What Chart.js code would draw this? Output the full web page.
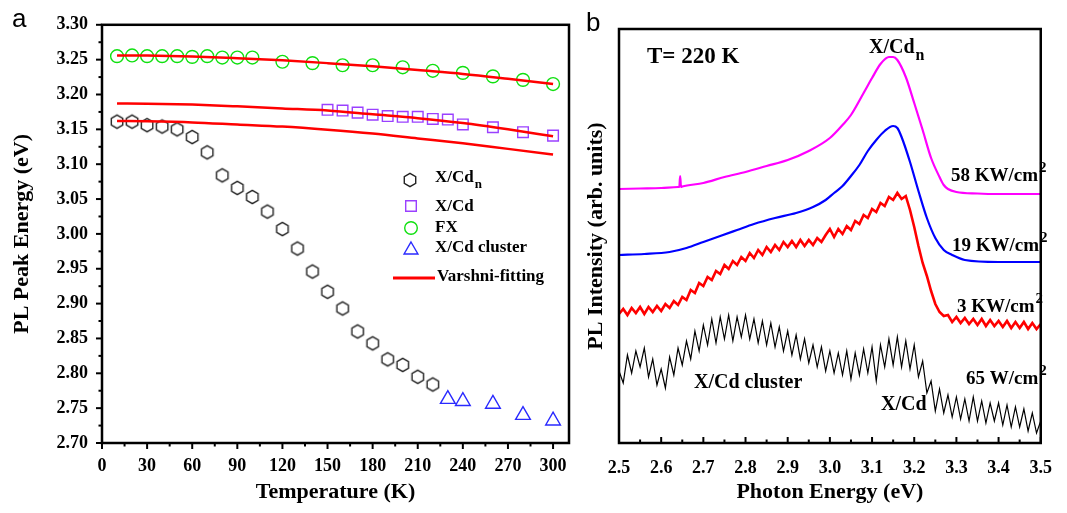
<!DOCTYPE html>
<html>
<head>
<meta charset="utf-8">
<script src="https://cdn.jsdelivr.net/npm/chart.js@4.4.1/dist/chart.umd.min.js"></script>
<style>
html, body { margin: 0; padding: 0; background: #fff; }
#wrapA { position: absolute; left: 0; top: 0; width: 580px; height: 513px; }
#wrapB { position: absolute; left: 580px; top: 0; width: 487px; height: 513px; }
</style>
</head>
<body>
<div id="wrapA"><canvas id="chartA"></canvas></div>
<div id="wrapB"><canvas id="chartB"></canvas></div>
<script>
// ---- panel a : peak energy vs temperature ----
var hexT = [10, 20, 30, 40, 50, 60, 70, 80, 90, 100, 110, 120, 130, 140, 150, 160, 170, 180, 190, 200, 210, 220];
var hexE = [3.161, 3.161, 3.156, 3.154, 3.150, 3.139, 3.117, 3.084, 3.066, 3.053, 3.032, 3.007, 2.979, 2.946, 2.917, 2.893, 2.860, 2.843, 2.820, 2.812, 2.795, 2.784];
var sqT = [150, 160, 170, 180, 190, 200, 210, 220, 230, 240, 260, 280, 300];
var sqE = [3.178, 3.177, 3.174, 3.171, 3.169, 3.168, 3.168, 3.165, 3.164, 3.157, 3.153, 3.146, 3.141];
var fxT = [10, 20, 30, 40, 50, 60, 70, 80, 90, 100, 120, 140, 160, 180, 200, 220, 240, 260, 280, 300];
var fxE = [3.255, 3.256, 3.255, 3.255, 3.255, 3.254, 3.255, 3.253, 3.253, 3.253, 3.247, 3.245, 3.242, 3.242, 3.239, 3.234, 3.231, 3.226, 3.221, 3.215];
var clT = [230, 240, 260, 280, 300];
var clE = [2.763, 2.760, 2.756, 2.740, 2.732];
var fitT = [10, 30, 60, 90, 120, 150, 180, 210, 240, 270, 300];
var fitFX = [3.256, 3.2558, 3.2545, 3.252, 3.249, 3.245, 3.2405, 3.235, 3.2295, 3.2225, 3.215];
var fitXCd = [3.187, 3.1868, 3.1855, 3.183, 3.180, 3.177, 3.1715, 3.166, 3.159, 3.150, 3.140];
var fitXCdn = [3.162, 3.1615, 3.160, 3.157, 3.154, 3.1495, 3.144, 3.137, 3.130, 3.122, 3.114];
var tempTicks = [0, 30, 60, 90, 120, 150, 180, 210, 240, 270, 300];
var tempMinor = [15, 45, 75, 105, 135, 165, 195, 225, 255, 285];
var peTicks = [2.70, 2.75, 2.80, 2.85, 2.90, 2.95, 3.00, 3.05, 3.10, 3.15, 3.20, 3.25, 3.30];
var peMinor = [2.725, 2.775, 2.825, 2.875, 2.925, 2.975, 3.025, 3.075, 3.125, 3.175, 3.225, 3.275];

// ---- panel b : PL spectra at 220 K ----
var gridE = [2.50, 2.51, 2.52, 2.53, 2.54, 2.55, 2.56, 2.57, 2.58, 2.59,
  2.60, 2.61, 2.62, 2.63, 2.64, 2.65, 2.66, 2.67, 2.68, 2.69,
  2.70, 2.71, 2.72, 2.73, 2.74, 2.75, 2.76, 2.77, 2.78, 2.79,
  2.80, 2.81, 2.82, 2.83, 2.84, 2.85, 2.86, 2.87, 2.88, 2.89,
  2.90, 2.91, 2.92, 2.93, 2.94, 2.95, 2.96, 2.97, 2.98, 2.99,
  3.00, 3.01, 3.02, 3.03, 3.04, 3.05, 3.06, 3.07, 3.08, 3.09,
  3.10, 3.11, 3.12, 3.13, 3.14, 3.15, 3.16, 3.17, 3.18, 3.19,
  3.20, 3.21, 3.22, 3.23, 3.24, 3.25, 3.26, 3.27, 3.28, 3.29,
  3.30, 3.31, 3.32, 3.33, 3.34, 3.35, 3.36, 3.37, 3.38, 3.39,
  3.40, 3.41, 3.42, 3.43, 3.44, 3.45, 3.46, 3.47, 3.48, 3.49, 3.50];
var black65W = [72, 60, 88, 70, 92, 76, 95, 66, 84, 58,
  74, 55, 86, 68, 95, 78, 102, 84, 112, 92,
  118, 98, 124, 100, 126, 104, 128, 102, 126, 106,
  128, 104, 124, 100, 122, 98, 120, 96, 116, 92,
  112, 88, 108, 84, 104, 80, 98, 76, 96, 72,
  92, 70, 90, 68, 92, 64, 90, 68, 94, 70,
  96, 62, 98, 76, 104, 78, 106, 76, 102, 74,
  98, 66, 82, 50, 62, 32, 54, 30, 48, 26,
  46, 24, 44, 22, 46, 22, 42, 20, 40, 22,
  40, 18, 38, 16, 36, 16, 34, 12, 30, 10, 22];
var red3KW = [129, 134, 128, 135, 130, 136, 129, 136, 131, 137,
  132, 139, 135, 142, 138, 146, 143, 153, 150, 160,
  157, 166, 163, 172, 169, 178, 174, 182, 178, 186,
  182, 190, 185, 193, 188, 196, 191, 198, 193, 201,
  196, 202, 196, 203, 197, 203, 198, 205, 201, 208,
  214, 206, 214, 209, 217, 213, 222, 219, 228, 225,
  234, 231, 240, 237, 246, 243, 250, 244, 247, 233,
  216, 197, 180, 167, 152, 139, 131, 127, 128, 121,
  126, 120, 125, 119, 124, 118, 124, 117, 123, 117,
  122, 116, 122, 115, 121, 115, 121, 114, 120, 114, 119];
var blueE = [2.50, 2.56, 2.62, 2.66, 2.70, 2.74, 2.78, 2.82, 2.87, 2.92, 2.96, 2.99, 3.01, 3.03, 3.05, 3.07, 3.09, 3.11, 3.13, 3.15, 3.16, 3.17, 3.19, 3.21, 3.23, 3.25, 3.27, 3.29, 3.32, 3.40, 3.50];
var blue19KW = [188, 189, 191, 195, 201, 207, 213, 219, 225, 230, 236, 243, 250, 257, 267, 278, 292, 303, 312, 317, 315, 306, 281, 252, 225, 205, 193, 188, 183, 181, 181];
var magE = [2.50, 2.55, 2.60, 2.64, 2.643, 2.645, 2.647, 2.65, 2.70, 2.75, 2.80, 2.85, 2.90, 2.95, 3.00, 3.03, 3.05, 3.08, 3.10, 3.12, 3.14, 3.15, 3.16, 3.18, 3.20, 3.22, 3.24, 3.26, 3.27, 3.28, 3.30, 3.35, 3.40, 3.50];
var mag58KW = [254, 254.5, 255, 256, 256, 267, 256, 256.5, 260, 266, 271, 277, 283, 292, 305, 318, 328, 350, 365, 379, 386, 386, 383, 366, 340, 313, 285, 266, 258, 254, 251, 249.5, 249, 249];
var energyTicks = [2.5, 2.6, 2.7, 2.8, 2.9, 3.0, 3.1, 3.2, 3.3, 3.4, 3.5];
var energyMinor = [2.55, 2.65, 2.75, 2.85, 2.95, 3.05, 3.15, 3.25, 3.35, 3.45];

var SERIF = '"Liberation Serif", "Times New Roman", serif';
var tickFont = { family: SERIF, weight: 'bold', size: 18 };
var titleFont = { family: SERIF, weight: 'bold', size: 22 };

function pts(xs, ys) {
  return xs.map(function (x, i) { return { x: x, y: ys[i] }; });
}

// hexagon marker (pointy top)
var hexImg = document.createElement('canvas');
hexImg.width = 18; hexImg.height = 18;
(function () {
  var c = hexImg.getContext('2d');
  c.strokeStyle = '#222';
  c.lineWidth = 1.4;
  c.beginPath();
  for (var k = 0; k < 6; k++) {
    var ang = (-90 + 60 * k) * Math.PI / 180;
    var px = 9 + 6.6 * Math.cos(ang), py = 9 + 6.6 * Math.sin(ang);
    if (k === 0) c.moveTo(px, py); else c.lineTo(px, py);
  }
  c.closePath();
  c.stroke();
})();

function richText(ctx, x, y, main, extra, mode, size) {
  ctx.font = 'bold ' + size + 'px ' + SERIF;
  ctx.fillText(main, x, y);
  var w = ctx.measureText(main).width;
  ctx.font = 'bold ' + Math.round(size * 0.78) + 'px ' + SERIF;
  ctx.fillText(extra, x + w + 1, mode === 'sub' ? y + size * 0.4 : y - size * 0.42);
}

// frame + major/minor ticks
var boxTicks = {
  id: 'boxTicks',
  afterDatasetsDraw: function (chart, args, opts) {
    var ctx = chart.ctx, a = chart.chartArea, sx = chart.scales.x, sy = chart.scales.y;
    var dir = opts.inward ? -1 : 1;
    ctx.save();
    ctx.strokeStyle = '#000';
    ctx.lineWidth = 2.5;
    ctx.strokeRect(a.left, a.top, a.right - a.left, a.bottom - a.top);
    ctx.lineWidth = 2;
    function xt(vals, len) {
      vals.forEach(function (v) {
        var p = sx.getPixelForValue(v);
        ctx.beginPath(); ctx.moveTo(p, a.bottom); ctx.lineTo(p, a.bottom + dir * len); ctx.stroke();
      });
    }
    function yt(vals, len) {
      vals.forEach(function (v) {
        var p = sy.getPixelForValue(v);
        ctx.beginPath(); ctx.moveTo(a.left, p); ctx.lineTo(a.left - dir * len, p); ctx.stroke();
      });
    }
    xt(opts.xMajor || [], 6);
    xt(opts.xMinor || [], 3.5);
    yt(opts.yMajor || [], 6);
    yt(opts.yMinor || [], 3.5);
    ctx.restore();
  }
};

var legendA = {
  id: 'legendA',
  afterDraw: function (chart) {
    var ctx = chart.ctx;
    ctx.save();
    ctx.fillStyle = '#000';
    ctx.textBaseline = 'alphabetic';
    ctx.font = '26px "Liberation Sans", Arial, sans-serif';
    ctx.fillText('a', 12, 27);
    ctx.textBaseline = 'middle';
    ctx.drawImage(hexImg, 410 - 9, 180 - 9);
    ctx.fillStyle = 'rgba(0,0,0,0)';
    ctx.lineWidth = 1.4;
    ctx.strokeStyle = '#9a40ff';
    Chart.helpers.drawPoint(ctx, { pointStyle: 'rect', radius: 7.5, borderWidth: 1.4, rotation: 0 }, 411, 206);
    ctx.strokeStyle = '#10e010';
    Chart.helpers.drawPoint(ctx, { pointStyle: 'circle', radius: 6.3, borderWidth: 1.4, rotation: 0 }, 411, 228);
    ctx.strokeStyle = '#2a2aff';
    Chart.helpers.drawPoint(ctx, { pointStyle: 'triangle', radius: 8, borderWidth: 1.4, rotation: 0 }, 411, 250);
    ctx.strokeStyle = '#ff0000';
    ctx.lineWidth = 3;
    ctx.beginPath(); ctx.moveTo(393, 278); ctx.lineTo(435, 278); ctx.stroke();
    ctx.fillStyle = '#000';
    richText(ctx, 435, 178, 'X/Cd', 'n', 'sub', 17);
    ctx.font = 'bold 17px ' + SERIF;
    ctx.fillText('X/Cd', 435, 207);
    ctx.fillText('FX', 435, 228);
    ctx.fillText('X/Cd cluster', 435, 248);
    ctx.fillText('Varshni-fitting', 437, 277);
    ctx.restore();
  }
};

var labelsB = {
  id: 'labelsB',
  afterDraw: function (chart) {
    var ctx = chart.ctx;
    ctx.save();
    ctx.fillStyle = '#000';
    ctx.textBaseline = 'alphabetic';
    ctx.font = '26px "Liberation Sans", Arial, sans-serif';
    ctx.fillText('b', 6, 31);
    ctx.textBaseline = 'middle';
    ctx.font = 'bold 23px ' + SERIF;
    ctx.fillText('T= 220 K', 67, 57);
    richText(ctx, 289, 48, 'X/Cd', 'n', 'sub', 20);
    richText(ctx, 371, 176, '58 KW/cm', '2', 'sup', 19);
    richText(ctx, 372, 246, '19 KW/cm', '2', 'sup', 19);
    richText(ctx, 377, 307, '3 KW/cm', '2', 'sup', 19);
    richText(ctx, 386, 379, '65 W/cm', '2', 'sup', 19);
    ctx.font = 'bold 20px ' + SERIF;
    ctx.fillText('X/Cd cluster', 114, 383);
    ctx.fillText('X/Cd', 301, 405);
    ctx.restore();
  }
};

function markerSet(label, xs, ys, style, color, radius) {
  return {
    label: label,
    data: pts(xs, ys),
    pointStyle: style,
    pointRadius: radius,
    pointBorderWidth: 1.4,
    pointBorderColor: color,
    pointBackgroundColor: 'rgba(0,0,0,0)',
    showLine: false
  };
}
function fitSet(ys) {
  return {
    label: 'Varshni-fitting',
    data: pts(fitT, ys),
    showLine: true,
    borderColor: '#ff0000',
    borderWidth: 2.5,
    pointRadius: 0,
    cubicInterpolationMode: 'monotone'
  };
}

new Chart(document.getElementById('chartA'), {
  type: 'scatter',
  data: {
    datasets: [
      fitSet(fitFX),
      fitSet(fitXCd),
      fitSet(fitXCdn),
      markerSet('X/Cdn', hexT, hexE, hexImg, '#222', 6),
      markerSet('X/Cd', sqT, sqE, 'rect', '#9a40ff', 7.5),
      markerSet('FX', fxT, fxE, 'circle', '#10e010', 6.4),
      markerSet('X/Cd cluster', clT, clE, 'triangle', '#2a2aff', 8.5)
    ]
  },
  options: {
    responsive: true,
    maintainAspectRatio: false,
    animation: false,
    events: [],
    layout: { padding: { top: 20, right: 11, left: 0, bottom: 0 } },
    plugins: {
      legend: { display: false },
      tooltip: { enabled: false },
      boxTicks: { xMajor: tempTicks, xMinor: tempMinor, yMajor: peTicks, yMinor: peMinor, inward: false }
    },
    scales: {
      x: {
        type: 'linear', min: 0, max: 310.6,
        afterBuildTicks: function (s) { s.ticks = tempTicks.map(function (v) { return { value: v }; }); },
        afterFit: function (s) { s.height = 70; },
        grid: { display: false, drawTicks: false },
        border: { display: false },
        ticks: { padding: 13, color: '#000', font: tickFont, maxRotation: 0, autoSkip: false },
        title: { display: true, text: 'Temperature (K)', color: '#000', font: titleFont, padding: { top: 0, bottom: 7 } }
      },
      y: {
        type: 'linear', min: 2.70, max: 3.30,
        afterBuildTicks: function (s) { s.ticks = peTicks.map(function (v) { return { value: v }; }); },
        afterFit: function (s) { s.width = 102; },
        grid: { display: false, drawTicks: false },
        border: { display: false },
        ticks: { padding: 14, color: '#000', font: tickFont, autoSkip: false, callback: function (v) { return v.toFixed(2); } },
        title: { display: true, text: 'PL Peak Energy (eV)', color: '#000', font: titleFont, padding: { top: 9, bottom: 0 } }
      }
    }
  },
  plugins: [boxTicks, legendA]
});

function specSet(label, xs, ys, color, width, smooth) {
  return {
    label: label,
    data: pts(xs, ys),
    showLine: true,
    borderColor: color,
    borderWidth: width,
    pointRadius: 0,
    tension: 0,
    cubicInterpolationMode: smooth ? 'monotone' : 'default'
  };
}

new Chart(document.getElementById('chartB'), {
  type: 'scatter',
  data: {
    datasets: [
      specSet('58 KW/cm2', magE, mag58KW, '#ff00ff', 2.2, true),
      specSet('19 KW/cm2', blueE, blue19KW, '#0000ff', 2.2, true),
      specSet('3 KW/cm2', gridE, red3KW, '#ff0000', 2.6, false),
      specSet('65 W/cm2', gridE, black65W, '#000000', 1.2, false)
    ]
  },
  options: {
    responsive: true,
    maintainAspectRatio: false,
    animation: false,
    events: [],
    layout: { padding: { top: 29, right: 14, left: 0, bottom: 0 } },
    plugins: {
      legend: { display: false },
      tooltip: { enabled: false },
      boxTicks: { xMajor: energyTicks, xMinor: energyMinor, yMajor: [], yMinor: [], inward: true }
    },
    scales: {
      x: {
        type: 'linear', min: 2.5, max: 3.5,
        afterBuildTicks: function (s) { s.ticks = energyTicks.map(function (v) { return { value: v }; }); },
        afterFit: function (s) { s.height = 70; },
        grid: { display: false, drawTicks: false },
        border: { display: false },
        ticks: { padding: 15, color: '#000', font: tickFont, maxRotation: 0, autoSkip: false, callback: function (v) { return v.toFixed(1); } },
        title: { display: true, text: 'Photon Energy (eV)', color: '#000', font: titleFont, padding: { top: 0, bottom: 7 } }
      },
      y: {
        type: 'linear', min: 0, max: 414,
        afterFit: function (s) { s.width = 39; },
        grid: { display: false, drawTicks: false },
        border: { display: false },
        ticks: { display: false },
        title: { display: true, text: 'PL Intensity (arb. units)', color: '#000', font: titleFont, padding: { top: 3, bottom: 0 } }
      }
    }
  },
  plugins: [boxTicks, labelsB]
});
</script>
</body>
</html>
